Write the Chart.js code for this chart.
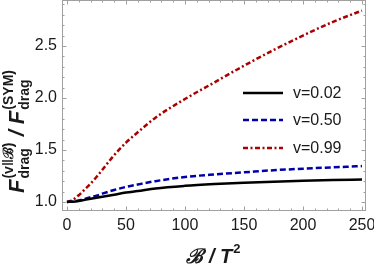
<!DOCTYPE html>
<html>
<head>
<meta charset="utf-8">
<script src="https://cdn.jsdelivr.net/npm/chart.js@4"></script>
<style>
  html, body { margin: 0; padding: 0; background: #fff; }
  canvas { display: block; }
</style>
</head>
<body>
<canvas id="chart" width="374" height="268"></canvas>
<script>
// values
const bVals = [0, 5, 10, 15, 20, 25, 30, 40, 50, 60, 75, 100, 125, 150, 175, 200, 225, 250];
const v002 = [1.0, 1.003, 1.01, 1.02, 1.03, 1.04, 1.05, 1.07, 1.09, 1.105, 1.13, 1.155, 1.172, 1.185, 1.195, 1.203, 1.21, 1.215];
const v050 = [1.0, 1.005, 1.015, 1.03, 1.045, 1.06, 1.08, 1.115, 1.145, 1.168, 1.2, 1.24, 1.265, 1.285, 1.305, 1.32, 1.333, 1.345];
const v099 = [1.0, 1.02, 1.065, 1.12, 1.175, 1.24, 1.31, 1.45, 1.57, 1.67, 1.81, 1.99, 2.15, 2.31, 2.46, 2.6, 2.73, 2.84];
const seriesNames = ["v=0.02", "v=0.50", "v=0.99"];
const xTicks = [0, 50, 100, 150, 200, 250];
const yTicks = [1.0, 1.5, 2.0, 2.5];

const frameCol = "#a0a0a0";
const textCol = "#1a1a1a";
const colors = ["#000000", "#0000aa", "#aa0000"];
const dashes = [[], [6, 3], [5, 2.5, 2, 2.5]];

const pts = (ys) => bVals.map((x, i) => ({ x: x, y: ys[i] }));

// frame, inward ticks, titles and legend
const extras = {
  id: "extras",
  afterDraw(chart) {
    const ctx = chart.ctx;
    const a = chart.chartArea;
    const xs = chart.scales.x, ys = chart.scales.y;
    ctx.save();
    ctx.strokeStyle = frameCol;
    ctx.lineWidth = 1;
    ctx.strokeRect(a.left + 0.5, a.top + 0.5, a.right - a.left - 1, a.bottom - a.top - 1);
    ctx.beginPath();
    for (let v = 0; v <= 250; v += 10) {
      const px = Math.round(xs.getPixelForValue(v)) + 0.5;
      const len = v % 50 === 0 ? 4.5 : 2.5;
      ctx.moveTo(px, a.bottom); ctx.lineTo(px, a.bottom - len);
      ctx.moveTo(px, a.top); ctx.lineTo(px, a.top + len);
    }
    for (let k = 10; k <= 29; k++) {
      const py = Math.round(ys.getPixelForValue(k / 10)) + 0.5;
      const len = k % 5 === 0 ? 4.5 : 2.5;
      ctx.moveTo(a.left, py); ctx.lineTo(a.left + len, py);
      ctx.moveTo(a.right, py); ctx.lineTo(a.right - len, py);
    }
    ctx.stroke();

    // legend
    ctx.font = "16px 'Liberation Sans', Arial, sans-serif";
    ctx.textBaseline = "middle";
    ctx.textAlign = "left";
    const ly = [93, 120, 148];
    for (let i = 0; i < 3; i++) {
      ctx.strokeStyle = colors[i];
      ctx.lineWidth = 2.5;
      ctx.setLineDash(dashes[i]);
      ctx.beginPath();
      ctx.moveTo(243, ly[i]); ctx.lineTo(283, ly[i]);
      ctx.stroke();
      ctx.setLineDash([]);
      ctx.fillStyle = textCol;
      ctx.fillText(seriesNames[i], 293, ly[i] + 1);
    }

    // x title
    ctx.fillStyle = textCol;
    ctx.textBaseline = "alphabetic";
    const bigX = "italic bold 20px 'Liberation Sans', Arial, sans-serif";
    const smallX = "bold 13px 'Liberation Sans', Arial, sans-serif";
    ctx.font = bigX;
    const p1 = "\u212C / T";
    const w1 = ctx.measureText(p1).width;
    ctx.font = smallX;
    const w2 = ctx.measureText("2").width;
    let sx = 213 - (w1 + w2) / 2;
    ctx.font = bigX;
    ctx.fillText(p1, sx, 263);
    ctx.font = smallX;
    ctx.fillText("2", sx + w1 + 1, 253);

    // y title, rotated
    ctx.translate(24, 193);
    ctx.rotate(-Math.PI / 2);
    const big = "italic bold 22px 'Liberation Sans', Arial, sans-serif";
    const sub = "bold 14px 'Liberation Sans', Arial, sans-serif";
    let u = 0;
    const part = (supTxt) => {
      ctx.font = big;
      ctx.fillText("F", u, 0);
      u += ctx.measureText("F").width + 1;
      ctx.font = sub;
      ctx.fillText("drag", u, 5);
      const wa = ctx.measureText("drag").width;
      ctx.fillText(supTxt, u, -11);
      const wb = ctx.measureText(supTxt).width;
      u += Math.max(wa, wb);
    };
    part("(v\u2016\u212C)");
    ctx.font = big;
    ctx.fillText(" / ", u, 0);
    u += ctx.measureText(" / ").width;
    part("(SYM)");
    ctx.restore();
  }
};

new Chart(document.getElementById("chart").getContext("2d"), {
  type: "line",
  data: {
    datasets: [v002, v050, v099].map((ys, i) => ({
      label: seriesNames[i],
      data: pts(ys),
      borderColor: colors[i],
      borderWidth: 2.5,
      borderDash: dashes[i],
      pointRadius: 0,
      cubicInterpolationMode: "monotone",
      fill: false
    }))
  },
  options: {
    responsive: false,
    animation: false,
    devicePixelRatio: 1,
    layout: { padding: { top: 0, right: 8, left: 0, bottom: 0 } },
    plugins: { legend: { display: false }, tooltip: { enabled: false } },
    scales: {
      x: {
        type: "linear",
        min: -4.2,
        max: 253.4,
        afterBuildTicks: (s) => { s.ticks = xTicks.map(v => ({ value: v })); },
        afterFit: (s) => { s.height = 57; s.paddingLeft = 0; s.paddingRight = 0; },
        grid: { display: false, drawTicks: false },
        border: { display: false },
        ticks: {
          padding: 5,
          color: textCol,
          maxRotation: 0,
          font: { size: 16, family: "'Liberation Sans', Arial, sans-serif" }
        }
      },
      y: {
        type: "linear",
        min: 0.913,
        max: 2.942,
        afterBuildTicks: (s) => { s.ticks = yTicks.map(v => ({ value: v })); },
        afterFit: (s) => { s.width = 62; s.paddingTop = 0; s.paddingBottom = 0; },
        grid: { display: false, drawTicks: false },
        border: { display: false },
        ticks: {
          padding: 5,
          color: textCol,
          callback: (v) => Number(v).toFixed(1),
          font: { size: 16, family: "'Liberation Sans', Arial, sans-serif" }
        }
      }
    }
  },
  plugins: [extras]
});
</script>
</body>
</html>
